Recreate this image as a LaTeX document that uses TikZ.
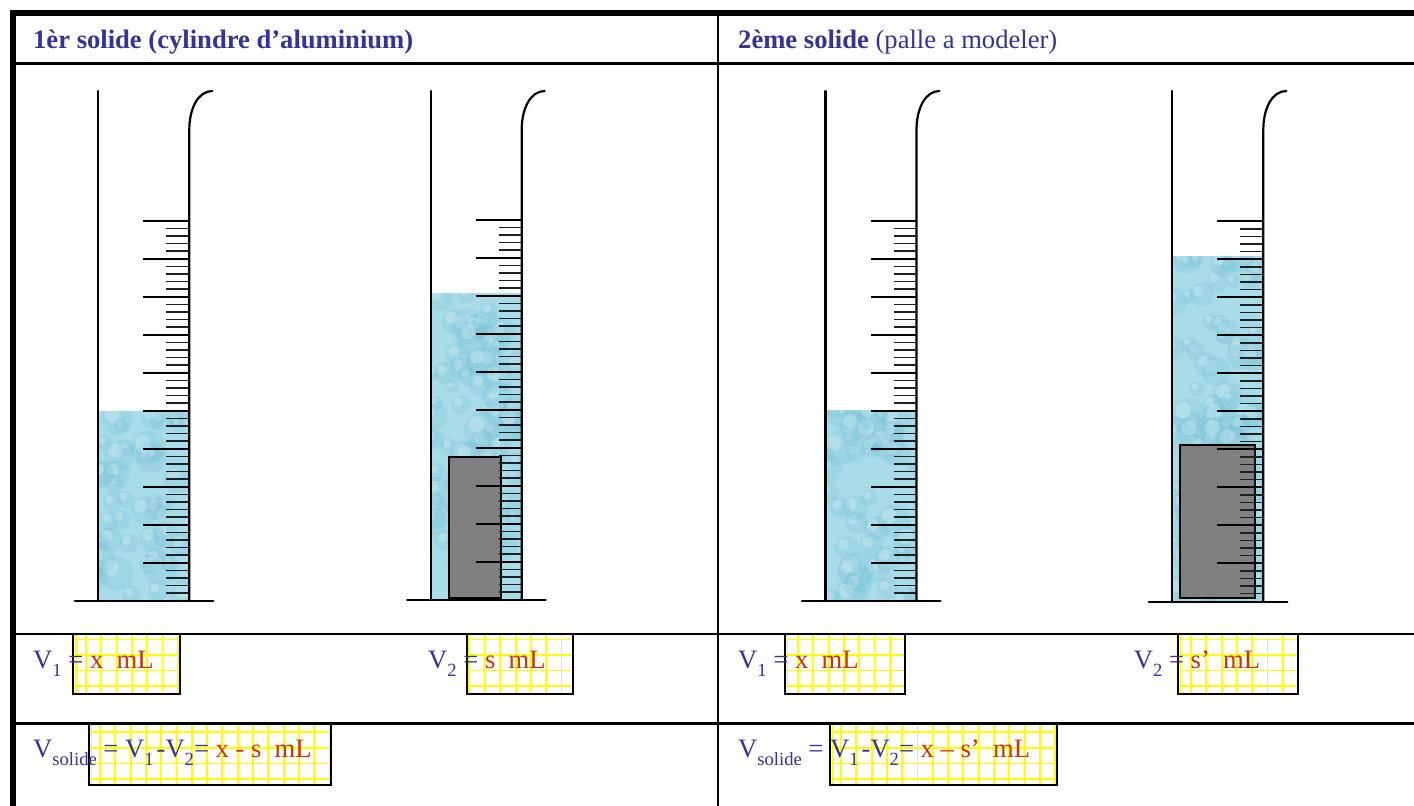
\documentclass[tikz,border=0pt]{standalone}
\usepackage{fontspec}
\setmainfont{Liberation Serif}
\definecolor{ink}{RGB}{51,51,153}
\definecolor{val}{RGB}{204,51,0}
\definecolor{water}{RGB}{168,220,232}
\definecolor{waterdk}{RGB}{96,182,210}
\definecolor{solidgrey}{RGB}{128,128,128}
\definecolor{gridyellow}{RGB}{255,255,0}

% lowered index in the volume labels
\newcommand\lowered[1]{\raisebox{-8pt}{\fontsize{18.6}{20}\selectfont #1}}

\tikzset{
  lbl/.style={anchor=base west, inner sep=0pt, font=\fontsize{26.6}{30}\selectfont},
  wall/.style={line width=2.2pt, line cap=round},
  major/.style={line width=2.2pt},
  minor/.style={line width=1.4pt, black!88},
  gridline/.style={gridyellow, line width=1.9pt},
  boxline/.style={black, line width=1.8pt},
  solidblock/.style={fill=solidgrey, draw=black, line width=1.8pt},
}

% water column with a mottled texture: left, right, top, bottom, number of spots
\newcommand\waterfill[5]{%
  \begin{scope}
    \clip (#1,#3) rectangle (#2,#4);
    \fill[water] (#1,#3) rectangle (#2,#4);
    \foreach \k in {1,...,#5}{%
      \pgfmathsetmacro\bx{#1+rnd*(#2-#1)}%
      \pgfmathsetmacro\by{#3+rnd*(#4-#3)}%
      \pgfmathsetmacro\br{6+rnd*12}%
      \fill[waterdk,opacity=0.16] (\bx,\by) circle[radius=\br];
      \fill[white,opacity=0.22] ({\bx-0.3*\br},{\by-0.3*\br}) circle[radius={0.45*\br}];
    }
  \end{scope}}

% graduated cylinder: left wall, right wall, first major tick, base line
\newcommand\gradcyl[4]{%
  \draw[wall] (#1,91) -- (#1,#4);
  \draw[wall] (#2,#4) -- (#2,130) .. controls (#2,108) and ({#2+9},91) .. ({#2+23},91);
  \draw[wall] ({#1-23.5},#4) -- ({#2+24},#4);
  \foreach \i in {0,...,49}{%
    \pgfmathsetmacro\ty{#3+7.6*\i}%
    \pgfmathtruncatemacro\m{mod(\i,5)}%
    \ifnum\m=0
      \draw[major] ({#2-46},\ty) -- (#2,\ty);
    \else
      \draw[minor] ({#2-23},\ty) -- (#2,\ty);
    \fi
  }}

% squared answer box: x1, y1, x2, y2, first column offset, first row offset, row step
\newcommand\gridbox[7]{%
  \begin{scope}
    \clip (#1,#2) rectangle (#3,#4);
    \fill[white] (#1,#2) rectangle (#3,#4);
    \draw[gridline] ({#1+2.5},#2) -- ({#1+2.5},#4);
    \foreach \k in {0,...,16}{\draw[gridline] ({#1+#5+15.3*\k},#2) -- ({#1+#5+15.3*\k},#4);}
    \foreach \k in {0,...,4}{\draw[gridline] (#1,{#2+#6+#7*\k}) -- (#3,{#2+#6+#7*\k});}
  \end{scope}
  \draw[boxline] (#1,#2) rectangle (#3,#4);}

\begin{document}
\begin{tikzpicture}[x=1pt,y=-1pt]
  \useasboundingbox (0,0) rectangle (1414,806);
  \fill[white] (0,0) rectangle (1414,806);
  \pgfmathsetseed{11}

  % water
  \waterfill{98.3}{189.3}{411}{601}{45}
  \waterfill{430.7}{521.7}{293}{600}{70}
  \waterfill{825.5}{916.5}{410}{601}{45}
  \waterfill{1172.3}{1263.3}{256}{601.7}{80}

  % immersed solids
  \draw[solidblock] (449.3,456.7) rectangle (500.7,598);
  \draw[solidblock] (1180,444.7) rectangle (1255,598);

  % cylinders
  \gradcyl{98.3}{189.3}{220.7}{601}
  \gradcyl{430.7}{521.7}{219.6}{600}
  \gradcyl{825.5}{916.5}{220.7}{601}
  \gradcyl{1172.3}{1263.3}{221.2}{601.7}

  % table rules
  \fill (10,10) rectangle (1414,16);
  \fill (10,10) rectangle (16,806);
  \draw[line width=2.5pt] (16,63.5) -- (1414,63.5);
  \draw[line width=2pt] (718.3,16) -- (718.3,806);
  \draw[line width=2pt] (16,633.5) -- (1414,633.5);
  \draw[line width=2.5pt] (16,723.3) -- (1414,723.3);

  % answer boxes
  \gridbox{73.3}{634.5}{180}{694.3}{12.7}{5}{15.5}
  \gridbox{466.7}{634.5}{572.7}{694.3}{18.3}{5}{15.5}
  \gridbox{785}{634.5}{905}{694.3}{13}{5}{15.5}
  \gridbox{1178}{634.5}{1298}{694.3}{13}{5}{15.5}
  \gridbox{89}{724.3}{331}{785}{11}{7.4}{15.9}
  \gridbox{830}{724.3}{1057}{785}{11}{7.4}{15.9}

  % headings
  \node[lbl, text=ink] (h1) at (33,48) {\bfseries 1èr solide (cylindre d’aluminium)};
  \node[lbl, text=ink] (h2) at (738,48) {\textbf{2ème solide} (palle a modeler)};

  % readings
  \node[lbl, text=ink] (v1a) at (33,668.3) {V\lowered{1} = \textcolor{val}{x\ \ mL}};
  \node[lbl, text=ink] (v2a) at (428,668.3) {V\lowered{2} = \textcolor{val}{s\ \ mL}};
  \node[lbl, text=ink] (v1b) at (738,668.3) {V\lowered{1} = \textcolor{val}{x\ \ mL}};
  \node[lbl, text=ink] (v2b) at (1133.7,668.3) {V\lowered{2} = \textcolor{val}{s’\ \ mL}};

  % results
  \node[lbl, text=ink] (vsa) at (33,757.5) {V\lowered{solide} = V\lowered{1}\hspace{3pt}-V\lowered{2}= \textcolor{val}{x - s\ \ mL}};
  \node[lbl, text=ink] (vsb) at (738,757.5) {V\lowered{solide} = V\lowered{1}\hspace{3pt}-V\lowered{2}= \textcolor{val}{x – s’\ \ mL}};
\end{tikzpicture}
\end{document}
